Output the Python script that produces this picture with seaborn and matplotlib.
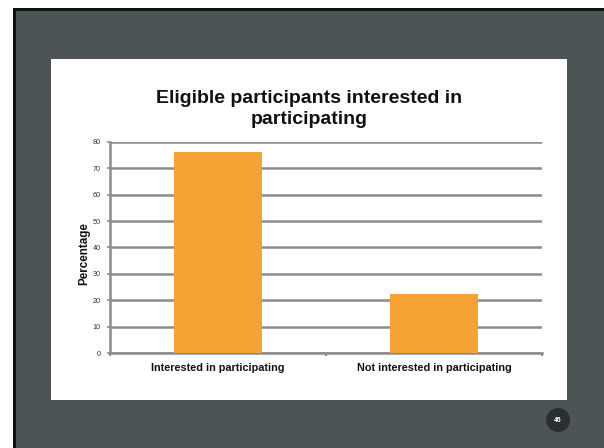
import matplotlib
matplotlib.use("Agg")
import matplotlib.pyplot as plt
from matplotlib.patches import Rectangle, Circle
import seaborn as sns
import pandas as pd

# Survey result: share of eligible participants by interest
categories = ["Interested in participating", "Not interested in participating"]
percentages = [76.0, 22.4]
y_ticks = [0, 10, 20, 30, 40, 50, 60, 70, 80]
title_text = "Eligible participants interested in\nparticipating"
y_label = "Percentage"
page_number = "46"

df = pd.DataFrame({"category": categories, "percentage": percentages})

sns.set_theme(style="white")
plt.rcParams["font.family"] = ["Liberation Sans", "DejaVu Sans"]

W, H = 604, 448
fig = plt.figure(figsize=(W / 100, H / 100), dpi=100, facecolor="white")


def px(x, y, w, h):
    """Pixel box (top-left origin) to figure-fraction rectangle args."""
    return (x / W, 1 - (y + h) / H), w / W, h / H


# Slide frame: black border, slate background, white content card
for (xy, w, h), color, z in [
    (px(13, 8, W, H), "#111111", -5),
    (px(16, 11, W, H), "#4C5456", -4),
    (px(51, 59, 516, 341), "white", -3),
]:
    fig.add_artist(Rectangle(xy, w, h, transform=fig.transFigure,
                             facecolor=color, edgecolor="none", zorder=z))

# Page number badge
cx, cy = 558 / W, 1 - 420 / H
fig.add_artist(Circle((558, H - 420), 12, transform=None,
                      facecolor="#2B2F30", edgecolor="none", zorder=-2))
fig.text(cx, cy, page_number, color="white", fontsize=5, fontweight="bold",
         ha="center", va="center")

ax = fig.add_axes([110 / W, 94.7 / H, 432 / W, 211.6 / H])
ax.set_zorder(1)
ax.patch.set_alpha(0)

sns.barplot(data=df, x="category", y="percentage", color="#F3A233",
            saturation=1, width=0.41, ax=ax, zorder=3, linewidth=0)

grid_c = "#8C8C8C"
ax.set_ylim(0, 80)
ax.set_xlim(-0.5, 1.5)
ax.set_yticks(y_ticks)
ax.set_yticklabels([str(t) for t in y_ticks], fontsize=5.2, color="#333333")
ax.yaxis.grid(True, color=grid_c, linewidth=1.8)
ax.set_axisbelow(True)

for side in ["top", "right"]:
    ax.spines[side].set_visible(False)
for side in ["left", "bottom"]:
    ax.spines[side].set_color(grid_c)
    ax.spines[side].set_linewidth(1.8)

ax.tick_params(axis="y", length=2.5, width=1.2, color=grid_c, pad=4,
               left=True, direction="out")
ax.tick_params(axis="x", which="major", length=0, pad=7)
ax.set_xticks([-0.5, 0.5, 1.5], minor=True)
ax.tick_params(axis="x", which="minor", length=2.5, width=1.5, color=grid_c,
               bottom=True, direction="out")
for lbl in ax.get_xticklabels():
    lbl.set_fontsize(7.8)
    lbl.set_fontweight("bold")
    lbl.set_color("#111111")

ax.set_xlabel("")
ax.set_ylabel(y_label, fontsize=8.4, fontweight="bold", color="#111111")
ax.yaxis.set_label_coords(-0.046, 0.469)

fig.text(309 / W, 1 - 109 / H, title_text, ha="center", va="center",
         fontsize=14, fontweight="bold", color="#111111", linespacing=1.25)

fig.savefig("out.png", dpi=100, facecolor=fig.get_facecolor())
